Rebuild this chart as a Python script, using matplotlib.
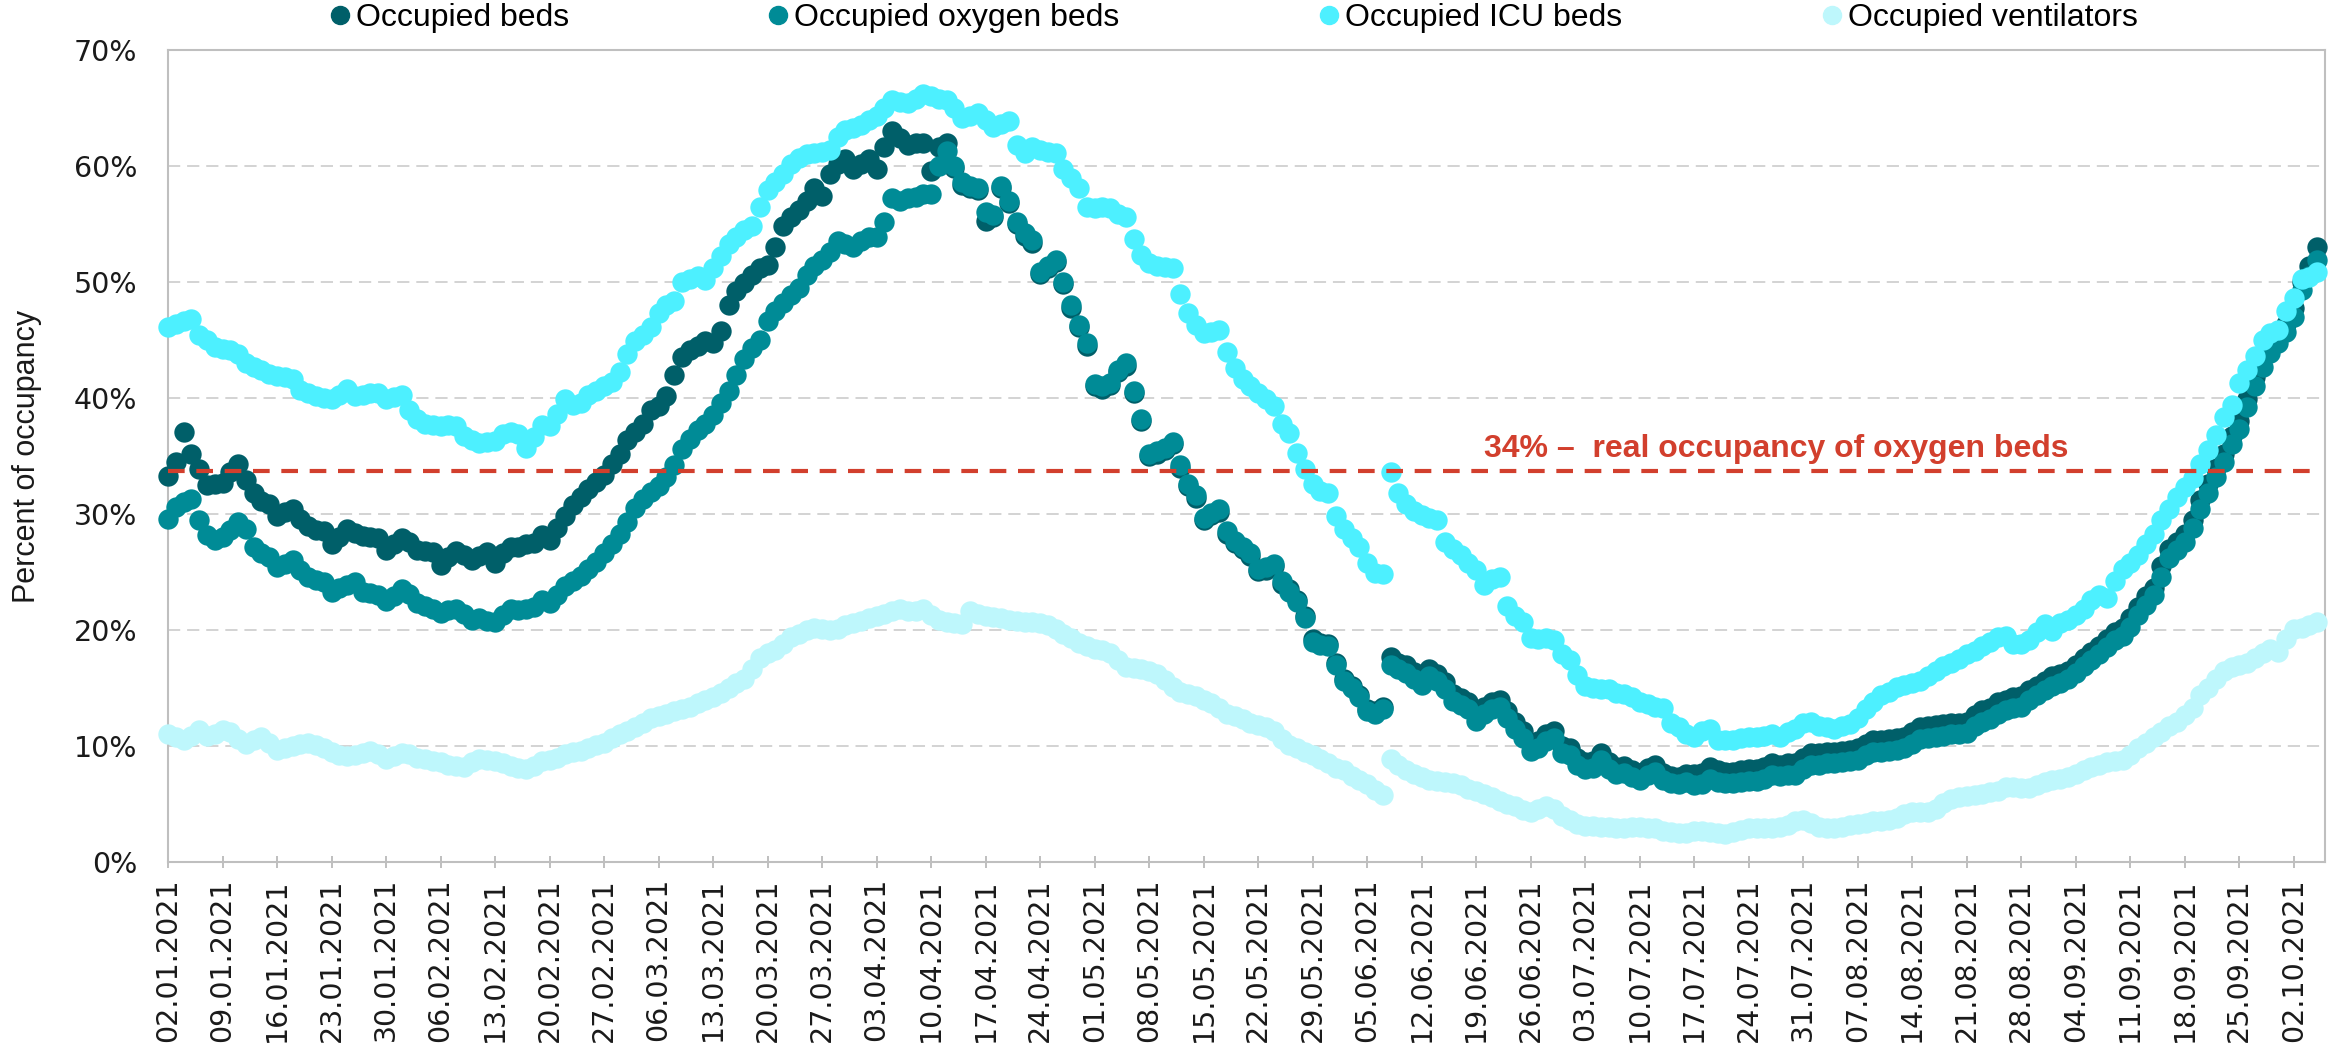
import numpy as np
import matplotlib
matplotlib.use('Agg')
import matplotlib.pyplot as plt
from matplotlib.lines import Line2D
import matplotlib.dates as mdates
from matplotlib.ticker import FuncFormatter

# daily values, 02.01.2021 - 05.10.2021 (percent)
dates = np.arange(np.datetime64('2021-01-02'), np.datetime64('2021-10-06'))

beds = [
    33.3, 34.5, 37.1, 35.2, 33.9, 32.5, 32.6, 32.7, 33.6, 34.3,
    32.9, 31.8, 31.1, 30.9, 29.8, 30.2, 30.4, 29.6, 29.0, 28.6,
    28.5, 27.4, 28.0, 28.7, 28.4, 28.1, 28.0, 27.9, 26.9, 27.4,
    27.9, 27.6, 26.9, 26.8, 26.7, 25.6, 26.3, 26.8, 26.5, 26.0,
    26.4, 26.7, 25.8, 26.6, 27.2, 27.2, 27.4, 27.5, 28.2, 27.8,
    28.8, 29.8, 30.8, 31.5, 32.2, 32.8, 33.4, 34.3, 35.2, 36.4,
    37.1, 37.8, 39.0, 39.3, 40.2, 42.0, 43.5, 44.1, 44.5, 44.9,
    44.7, 45.8, 48.0, 49.2, 49.9, 50.6, 51.2, 51.5, 53.0, 54.8,
    55.6, 56.2, 57.0, 58.1, 57.4, 59.3, 60.2, 60.6, 59.7, 60.2,
    60.6, 59.7, 61.6, 63.0, 62.4, 61.8, 62.0, 62.0, 59.6, 61.6,
    62.0, 59.8, 58.4, 58.1, 57.9, 55.3, 55.6, 58.1, 56.8, 55.0,
    54.0, 53.4, 50.7, 51.2, 51.7, 49.8, 47.8, 46.1, 44.5, 41.0,
    40.8, 41.1, 42.2, 42.8, 40.4, 38.0, 35.0, 35.2, 35.5, 36.0,
    34.0, 32.4, 31.4, 29.5, 29.9, 30.2, 28.3, 27.5, 27.0, 26.4,
    25.1, 25.2, 25.5, 24.0, 23.5, 22.6, 21.2, 19.2, 18.9, 18.8,
    17.2, 15.8, 15.2, 14.4, 13.2, 13.0, 13.4, 17.7, 17.2, 17.0,
    16.4, 15.9, 16.6, 16.2, 15.5, 14.5, 14.1, 13.8, 12.8, 13.4,
    13.8, 14.0, 13.0, 12.1, 11.3, 10.2, 10.4, 11.0, 11.3, 10.0,
    9.8, 9.0, 8.6, 8.7, 9.4, 8.6, 8.2, 8.3, 7.9, 7.7,
    8.1, 8.4, 7.7, 7.4, 7.3, 7.6, 7.6, 7.7, 8.2, 7.9,
    7.8, 7.8, 7.9, 8.0, 8.0, 8.2, 8.5, 8.4, 8.5, 8.5,
    9.0, 9.4, 9.4, 9.5, 9.5, 9.6, 9.7, 9.8, 10.2, 10.5,
    10.5, 10.6, 10.7, 10.8, 11.2, 11.6, 11.7, 11.8, 11.9, 12.0,
    12.0, 12.1, 12.7, 13.1, 13.3, 13.8, 14.0, 14.2, 14.3, 14.8,
    15.2, 15.6, 16.0, 16.2, 16.5, 17.0, 17.6, 18.1, 18.6, 19.2,
    19.8, 20.2, 21.0, 22.0, 22.9, 23.6, 25.5, 27.0, 27.6, 28.3,
    29.5, 31.2, 32.6, 34.0, 35.2, 36.7, 38.0, 39.9, 41.8, 43.5,
    44.6, 45.4, 46.4, 47.8, 50.0, 51.4, 53.0]

oxygen_beds = [
    29.6, 30.6, 31.0, 31.3, 29.5, 28.2, 27.8, 28.0, 28.6, 29.3,
    28.7, 27.2, 26.6, 26.3, 25.4, 25.7, 26.0, 25.2, 24.6, 24.3,
    24.1, 23.3, 23.6, 23.9, 24.1, 23.3, 23.2, 23.0, 22.5, 22.9,
    23.5, 23.1, 22.3, 22.1, 21.8, 21.5, 21.7, 21.8, 21.4, 20.9,
    21.0, 20.8, 20.7, 21.3, 21.8, 21.7, 21.8, 22.0, 22.6, 22.3,
    23.0, 23.8, 24.2, 24.7, 25.3, 25.9, 26.6, 27.4, 28.3, 29.3,
    30.5, 31.3, 31.9, 32.4, 33.2, 34.2, 35.6, 36.5, 37.2, 37.8,
    38.5, 39.6, 40.6, 42.0, 43.4, 44.3, 45.0, 46.6, 47.5, 48.2,
    48.9, 49.5, 50.6, 51.4, 51.9, 52.6, 53.5, 53.3, 53.0, 53.5,
    53.9, 53.9, 55.2, 57.2, 57.0, 57.2, 57.3, 57.6, 57.6, 60.0,
    61.3, 60.0, 58.6, 58.3, 58.1, 56.0, 55.8, 58.3, 57.0, 55.2,
    54.2, 53.6, 50.9, 51.4, 51.9, 50.0, 48.0, 46.3, 44.7, 41.2,
    41.0, 41.3, 42.4, 43.0, 40.6, 38.2, 35.2, 35.4, 35.7, 36.2,
    34.2, 32.6, 31.6, 29.7, 30.1, 30.4, 28.5, 27.7, 27.2, 26.6,
    25.3, 25.4, 25.7, 24.2, 23.3, 22.4, 21.0, 19.0, 18.7, 18.6,
    17.0, 15.6, 15.0, 14.2, 13.0, 12.8, 13.2, 17.0, 16.6, 16.3,
    15.8, 15.3, 16.0, 15.6, 14.9, 13.9, 13.5, 13.2, 12.2, 12.8,
    13.2, 13.4, 12.4, 11.5, 10.7, 9.6, 9.8, 10.4, 10.7, 9.4,
    9.2, 8.4, 8.0, 8.1, 8.8, 8.0, 7.6, 7.7, 7.3, 7.1,
    7.5, 7.8, 7.1, 6.8, 6.7, 6.9, 6.6, 6.7, 7.2, 6.9,
    6.8, 6.8, 6.9, 7.0, 7.0, 7.2, 7.5, 7.4, 7.5, 7.5,
    8.0, 8.4, 8.4, 8.5, 8.5, 8.6, 8.7, 8.8, 9.2, 9.5,
    9.5, 9.6, 9.7, 9.8, 10.2, 10.6, 10.7, 10.8, 10.9, 11.0,
    11.0, 11.1, 11.7, 12.1, 12.3, 12.8, 13.1, 13.3, 13.4, 14.0,
    14.4, 14.8, 15.2, 15.4, 15.8, 16.3, 16.9, 17.4, 17.9, 18.5,
    19.1, 19.5, 20.3, 21.3, 22.2, 23.0, 24.6, 26.2, 26.9, 27.6,
    28.8, 30.4, 31.8, 33.2, 34.5, 36.0, 37.3, 39.2, 41.0, 42.7,
    43.9, 44.7, 45.7, 47.0, 49.3, 50.5, 51.9]

icu_beds = [
    46.1, 46.4, 46.6, 46.8, 45.4, 45.0, 44.4, 44.2, 44.1, 43.8,
    43.0, 42.7, 42.4, 42.1, 41.9, 41.8, 41.6, 40.7, 40.4, 40.2,
    40.0, 39.9, 40.3, 40.8, 40.2, 40.3, 40.4, 40.4, 39.9, 40.1,
    40.3, 39.0, 38.2, 37.8, 37.7, 37.6, 37.7, 37.6, 36.7, 36.4,
    36.1, 36.2, 36.3, 36.9, 37.1, 36.9, 35.7, 36.6, 37.7, 37.6,
    38.6, 39.9, 39.4, 39.6, 40.3, 40.6, 41.0, 41.4, 42.2, 43.8,
    44.9, 45.4, 46.1, 47.3, 48.0, 48.4, 50.0, 50.3, 50.5, 50.2,
    51.2, 52.2, 53.3, 53.9, 54.5, 54.8, 56.5, 57.9, 58.6, 59.3,
    60.2, 60.7, 61.0, 61.1, 61.2, 61.4, 62.5, 63.1, 63.3, 63.5,
    64.0, 64.3, 65.0, 65.7, 65.5, 65.4, 65.8, 66.2, 66.0, 65.8,
    65.7, 65.0, 64.1, 64.3, 64.6, 64.0, 63.4, 63.6, 63.9, 61.8,
    61.1, 61.6, 61.4, 61.2, 61.1, 59.7, 59.0, 58.1, 56.5, 56.4,
    56.5, 56.4, 55.9, 55.6, 53.7, 52.3, 51.6, 51.4, 51.3, 51.2,
    49.0, 47.3, 46.3, 45.6, 45.7, 45.9, 44.0, 42.6, 41.6, 41.0,
    40.4, 39.9, 39.3, 37.8, 37.0, 35.3, 33.9, 32.6, 32.0, 31.8,
    29.8, 28.7, 27.9, 27.2, 25.8, 24.9, 24.8, 33.6, 31.8, 30.9,
    30.3, 29.9, 29.7, 29.5, 27.6, 27.0, 26.5, 25.8, 25.2, 23.9,
    24.4, 24.6, 22.1, 21.2, 20.7, 19.3, 19.2, 19.3, 19.1, 17.9,
    17.4, 16.1, 15.2, 15.0, 14.9, 14.9, 14.6, 14.5, 14.2, 13.8,
    13.6, 13.4, 13.3, 12.0, 11.6, 11.0, 10.8, 11.3, 11.5, 10.5,
    10.5, 10.5, 10.7, 10.8, 10.8, 10.9, 11.0, 10.8, 11.2, 11.5,
    12.0, 12.1, 11.7, 11.6, 11.5, 11.7, 11.9, 12.4, 13.2, 13.8,
    14.4, 14.7, 15.1, 15.3, 15.4, 15.6, 16.0, 16.5, 16.9, 17.2,
    17.5, 17.9, 18.2, 18.6, 19.0, 19.4, 19.5, 18.8, 18.8, 19.1,
    19.8, 20.5, 19.9, 20.6, 20.9, 21.3, 21.8, 22.6, 23.0, 22.8,
    24.2, 25.3, 25.8, 26.5, 27.4, 28.3, 29.5, 30.4, 31.5, 32.3,
    33.1, 34.3, 35.5, 36.8, 38.4, 39.4, 41.3, 42.4, 43.6, 45.0,
    45.6, 45.9, 47.5, 48.6, 50.3, 50.4, 50.9]

ventilators = [
    11.0, 10.8, 10.5, 10.9, 11.4, 10.9, 11.0, 11.4, 11.2, 10.6,
    10.2, 10.5, 10.8, 10.3, 9.7, 9.8, 10.0, 10.2, 10.3, 10.1,
    9.8, 9.5, 9.2, 9.1, 9.2, 9.4, 9.6, 9.3, 8.9, 9.1,
    9.4, 9.3, 9.0, 8.9, 8.7, 8.6, 8.4, 8.3, 8.2, 8.6,
    8.9, 8.8, 8.7, 8.5, 8.3, 8.1, 8.0, 8.3, 8.7, 8.8,
    9.0, 9.3, 9.5, 9.6, 9.8, 10.1, 10.3, 10.7, 11.0, 11.3,
    11.6, 12.0, 12.4, 12.6, 12.8, 13.0, 13.2, 13.4, 13.7, 14.0,
    14.2, 14.6, 15.0, 15.4, 15.8, 16.6, 17.6, 18.0, 18.3, 18.8,
    19.4, 19.7, 20.0, 20.2, 20.1, 20.0, 20.1, 20.4, 20.6, 20.8,
    21.0, 21.2, 21.4, 21.6, 21.8, 21.6, 21.6, 21.8, 21.3, 20.9,
    20.7, 20.6, 20.5, 21.6, 21.4, 21.2, 21.1, 21.0, 20.9, 20.8,
    20.7, 20.7, 20.6, 20.4, 20.1, 19.7, 19.3, 18.9, 18.6, 18.4,
    18.3, 18.0, 17.4, 16.8, 16.7, 16.6, 16.5, 16.2, 15.7, 15.1,
    14.7, 14.5, 14.3, 14.0, 13.7, 13.3, 12.8, 12.6, 12.3, 12.0,
    11.8, 11.6, 11.3, 10.6, 10.1, 9.8, 9.5, 9.2, 8.9, 8.5,
    8.1, 7.9, 7.4, 7.1, 6.7, 6.2, 5.8, 8.9, 8.4, 7.9,
    7.6, 7.3, 7.1, 7.0, 6.9, 6.8, 6.6, 6.3, 6.1, 5.9,
    5.6, 5.3, 5.0, 4.8, 4.5, 4.3, 4.6, 4.8, 4.6, 4.0,
    3.6, 3.3, 3.1, 3.1, 3.0, 3.0, 2.9, 2.9, 3.0, 3.0,
    2.9, 2.9, 2.7, 2.6, 2.5, 2.5, 2.7, 2.7, 2.6, 2.5,
    2.4, 2.6, 2.8, 2.9, 2.9, 2.9, 2.9, 3.0, 3.2, 3.5,
    3.6, 3.4, 3.0, 2.9, 2.9, 3.0, 3.2, 3.3, 3.4, 3.5,
    3.5, 3.6, 3.8, 4.1, 4.3, 4.3, 4.3, 4.6, 5.1, 5.4,
    5.6, 5.7, 5.8, 5.9, 6.0, 6.1, 6.5, 6.5, 6.4, 6.4,
    6.6, 6.9, 7.1, 7.2, 7.3, 7.6, 7.9, 8.2, 8.4, 8.6,
    8.7, 8.8, 9.2, 9.8, 10.3, 10.8, 11.2, 11.7, 12.1, 12.7,
    13.3, 14.4, 15.0, 15.8, 16.5, 16.8, 17.0, 17.2, 17.6, 18.0,
    18.4, 18.1, 19.2, 20.1, 20.2, 20.4, 20.7]

real_oxygen = 33.7
real_label = '34% \u2013  real occupancy of oxygen beds'

labels = ['Occupied beds', 'Occupied oxygen beds', 'Occupied ICU beds', 'Occupied ventilators']
colors = ['#005F69', '#008B96', '#4DF0FF', '#BEF7FC']
red = '#D23F2D'

for s in (beds, oxygen_beds, icu_beds, ventilators):
    assert len(s) == len(dates), len(s)

plt.rcParams['font.family'] = 'DejaVu Sans'

fig = plt.figure(figsize=(23.43, 10.44), dpi=100)
ax = fig.add_axes([0.0717, 0.1743, 0.9206, 0.7778])

# dots, in the order excel stacked them
for vals, c in zip((beds, oxygen_beds, icu_beds, ventilators), colors):
    ax.scatter(dates, vals, s=215, color=c, linewidths=0, clip_on=False, zorder=3)

# reference line
ax.plot([dates[0], dates[-1]], [real_oxygen, real_oxygen], color=red, lw=3,
        ls=(0, (4, 2.8)), zorder=4)
ax.text(dates[169], real_oxygen + 0.6, real_label, color=red, fontsize=23,
        fontweight='bold', family='Liberation Sans', va='bottom', zorder=5)

ax.set_ylim(0, 70)
ax.set_yticks(range(0, 71, 10))
ax.yaxis.set_major_formatter(FuncFormatter(lambda v, p: '%d%%' % v))
ax.set_xlim(dates[0], dates[-1] + np.timedelta64(1, 'D'))
ax.set_xticks(dates[::7])
ax.xaxis.set_major_formatter(mdates.DateFormatter('%d.%m.%Y'))

ax.yaxis.grid(True, ls=(0, (8, 4.5)), color='#C8C8C8', lw=1.1)
ax.set_axisbelow(True)
for sp in ax.spines.values():
    sp.set_color('#BFBFBF')
    sp.set_linewidth(1.5)

ax.tick_params(axis='y', length=0, pad=22, labelsize=20.5, labelcolor='#1A1A1A')
ax.tick_params(axis='x', direction='inout', length=9, width=1.4, color='#BFBFBF',
               pad=7, labelsize=20.5, labelcolor='#1A1A1A', labelrotation=90)

ax.set_ylabel('Percent of occupancy', fontsize=22, family='Liberation Sans', color='#1A1A1A')
ax.yaxis.set_label_coords(-0.0584, 0.5)

handles = [Line2D([], [], marker='o', ls='', markersize=13, color=c) for c in colors]
fig.legend(handles, labels, loc='center left', bbox_to_anchor=(330 / 2343, 0.983),
           ncol=4, frameon=False, prop={'family': 'Liberation Sans', 'size': 23},
           handlelength=0.6, handletextpad=0.2, columnspacing=6.26,
           borderpad=0, borderaxespad=0)

fig.savefig('out.png', dpi=100)
